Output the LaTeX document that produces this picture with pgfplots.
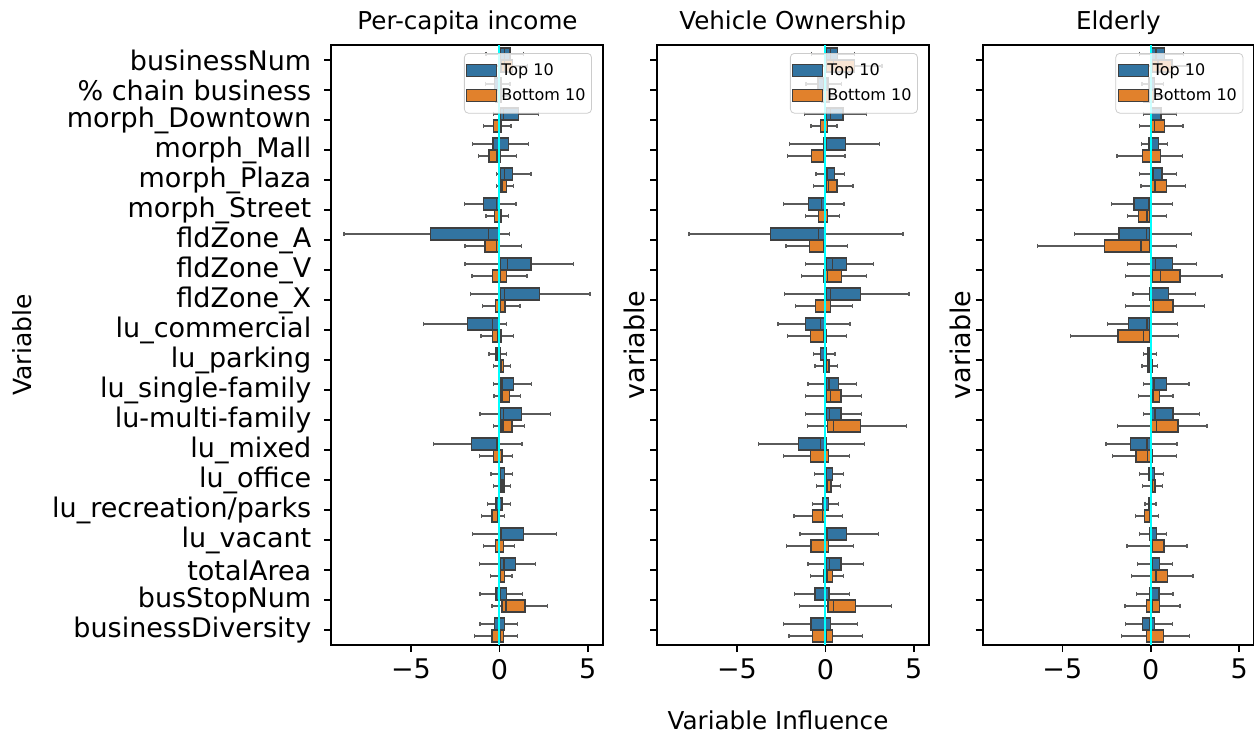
\documentclass[border=0pt]{standalone}
\usepackage{fontspec}
\setmainfont{DejaVu Sans}
\usepackage{pgfplots}
\pgfplotsset{compat=1.18}
\usepgfplotslibrary{statistics}
\definecolor{sbblue}{RGB}{50,116,161}
\definecolor{sborange}{RGB}{225,129,44}
\definecolor{edgegray}{RGB}{63,63,63}
\definecolor{whiskgray}{RGB}{90,90,90}
\definecolor{cyanline}{RGB}{0,255,255}
\newcommand{\bxp}[7]{\addplot[draw=edgegray, line width=0.65pt, fill=#1, forget plot,
  boxplot/every whisker/.style={draw=whiskgray, line width=0.65pt},
  boxplot prepared={draw position=#2, lower whisker=#3, lower quartile=#4, median=#5,
  upper quartile=#6, upper whisker=#7, box extend=0.4, whisker extend=0.14}] coordinates {};}
\newcommand{\T}[6]{\bxp{sbblue}{#1}{#2}{#3}{#4}{#5}{#6}}
\newcommand{\B}[6]{\bxp{sborange}{#1}{#2}{#3}{#4}{#5}{#6}}
\pgfplotsset{
  panel/.style={
    scale only axis, width=135.6pt, height=300pt, anchor=south west,
    xmin=-9.5, xmax=5.83, ymin=-0.5, ymax=19.5, y dir=reverse,
    xtick={-5,0,5}, xticklabels={−5,0,5}, ytick={0,...,19},
    axis line style={line width=1pt}, tick style={line width=0.8pt, black},
    major tick length=3.5pt, tick align=outside, xtick pos=bottom, ytick pos=left,
    ticklabel style={font=\fontsize{13.5}{16}\selectfont},
    yticklabel style={xshift=-3pt},
    legend image code/.code={\draw[sharp corners, draw=edgegray, line width=0.5pt, fill opacity=1, ##1] (0pt,-3pt) rectangle (15pt,3pt);},
    legend cell align=left,
    legend style={at={(rel axis cs:1,1)}, anchor=north east, xshift=-5.3pt, yshift=-4pt,
      draw=black!20, rounded corners=2pt, fill=white, fill opacity=0.8, text opacity=1,
      font=\fontsize{8}{9.6}\selectfont, inner xsep=1pt, inner ysep=3pt, row sep=1pt},
  }
}
\begin{document}
\begin{tikzpicture}
\path[use as bounding box] (0,0) rectangle (627pt,370pt);
% ---------------- Panel 1: Per-capita income
\begin{axis}[panel, at={(165.65pt,47.5pt)},
  yticklabels={businessNum,\% chain business,morph\_Downtown,morph\_Mall,morph\_Plaza,morph\_Street,fldZone\_A,fldZone\_V,fldZone\_X,lu\_commercial,lu\_parking,lu\_single-family,lu-multi-family,lu\_mixed,lu\_office,lu\_recreation/parks,lu\_vacant,totalArea,busStopNum,businessDiversity}]
\T{-0.2}{-0.75}{0.06}{0.3}{0.6}{1.35}
\B{0.2}{-0.5}{0.1}{0.3}{0.75}{1.6}
\T{0.8}{-0.8}{-0.27}{-0.05}{0.1}{0.6}
\B{1.2}{-0.7}{-0.2}{0.0}{0.1}{0.5}
\T{1.8}{-0.32}{0.06}{0.24}{1.07}{2.22}
\B{2.2}{-0.9}{-0.32}{0.04}{0.09}{0.66}
\T{2.8}{-1.5}{-0.36}{-0.05}{0.51}{1.65}
\B{3.2}{-1.18}{-0.58}{-0.13}{0.06}{0.98}
\T{3.8}{-0.17}{0.06}{0.28}{0.73}{1.79}
\B{4.2}{-0.17}{0.09}{0.15}{0.39}{0.81}
\T{4.8}{-1.97}{-0.9}{-0.17}{-0.06}{0.94}
\B{5.2}{-0.75}{-0.28}{0.0}{0.09}{0.53}
\T{5.8}{-8.78}{-3.91}{-0.62}{-0.06}{0.56}
\B{6.2}{-1.95}{-0.81}{-0.17}{-0.06}{1.26}
\T{6.8}{-1.95}{0.06}{0.45}{1.79}{4.21}
\B{7.2}{-1.54}{-0.38}{0.04}{0.39}{1.56}
\T{7.8}{-1.65}{0.06}{0.28}{2.26}{5.13}
\B{8.2}{-0.96}{-0.23}{0.04}{0.32}{1.17}
\T{8.8}{-4.27}{-1.82}{-0.39}{-0.06}{0.41}
\B{9.2}{-1.03}{-0.39}{-0.08}{0.09}{0.81}
\T{9.8}{-0.58}{-0.19}{-0.08}{0.06}{0.39}
\B{10.2}{-0.34}{0.08}{0.11}{0.24}{0.62}
\T{10.8}{-0.34}{0.08}{0.15}{0.81}{1.82}
\B{11.2}{-0.3}{0.09}{0.17}{0.56}{1.18}
\T{11.8}{-1.09}{0.06}{0.24}{1.26}{2.91}
\B{12.2}{-0.34}{0.09}{0.2}{0.71}{1.41}
\T{12.8}{-3.74}{-1.58}{-0.13}{-0.06}{1.28}
\B{13.2}{-1.13}{-0.34}{0.02}{0.15}{0.73}
\T{13.8}{-0.47}{0.04}{0.08}{0.3}{0.73}
\B{14.2}{-0.34}{0.08}{0.15}{0.26}{0.62}
\T{14.8}{-0.68}{-0.19}{0.02}{0.15}{0.62}
\B{15.2}{-1.02}{-0.41}{-0.09}{-0.06}{0.3}
\T{15.8}{-1.5}{0.08}{0.13}{1.35}{3.21}
\B{16.2}{-0.9}{-0.23}{0.02}{0.23}{0.85}
\T{16.8}{-1.13}{0.06}{0.26}{0.9}{2.05}
\B{17.2}{-0.49}{-0.06}{0.08}{0.28}{0.71}
\T{17.8}{-1.09}{-0.19}{0.06}{0.41}{1.3}
\B{18.2}{-0.41}{0.15}{0.38}{1.45}{2.74}
\T{18.8}{-1.09}{-0.26}{0.02}{0.3}{1.03}
\B{19.2}{-1.39}{-0.41}{0.06}{0.24}{1.03}
\addplot[cyanline, line width=1pt, forget plot] coordinates {(0,-0.5) (0,19.5)};
\addlegendimage{fill=sbblue}\addlegendentry{Top 10}
\addlegendimage{fill=sborange}\addlegendentry{Bottom 10}
\end{axis}
% ---------------- Panel 2: Vehicle Ownership
\begin{axis}[panel, at={(328.65pt,47.5pt)}, yticklabels={}]
\T{-0.2}{-0.77}{0.04}{0.3}{0.69}{1.63}
\B{0.2}{-0.7}{0.05}{0.45}{1.66}{3.2}
\T{0.8}{-1.1}{-0.41}{-0.1}{0.15}{0.92}
\B{1.2}{-0.8}{-0.2}{0.0}{0.2}{0.8}
\T{1.8}{-1.18}{0.04}{0.28}{0.99}{2.31}
\B{2.2}{-0.81}{-0.28}{-0.04}{0.11}{0.66}
\T{2.8}{-2.04}{-0.11}{0.08}{1.14}{3.06}
\B{3.2}{-2.14}{-0.79}{-0.11}{-0.04}{1.11}
\T{3.8}{-0.53}{0.06}{0.09}{0.53}{1.09}
\B{4.2}{-0.69}{0.06}{0.17}{0.66}{1.56}
\T{4.8}{-2.36}{-0.96}{-0.21}{-0.06}{1.05}
\B{5.2}{-1.11}{-0.39}{0.0}{0.13}{0.79}
\T{5.8}{-7.71}{-3.11}{-0.38}{-0.02}{4.39}
\B{6.2}{-2.23}{-0.88}{-0.11}{0.0}{1.24}
\T{6.8}{-1.14}{0.04}{0.41}{1.2}{2.74}
\B{7.2}{-1.35}{-0.11}{0.11}{0.92}{2.31}
\T{7.8}{-2.31}{0.04}{0.3}{1.97}{4.73}
\B{8.2}{-1.69}{-0.56}{0.0}{0.28}{1.52}
\T{8.8}{-2.68}{-1.11}{-0.26}{-0.02}{1.39}
\B{9.2}{-2.14}{-0.83}{-0.09}{0.04}{1.18}
\T{9.8}{-0.69}{-0.28}{-0.06}{0.04}{0.54}
\B{10.2}{-0.58}{-0.11}{0.08}{0.21}{0.68}
\T{10.8}{-0.99}{0.06}{0.21}{0.73}{1.76}
\B{11.2}{-1.11}{0.06}{0.28}{0.88}{2.05}
\T{11.8}{-1.11}{0.04}{0.24}{0.88}{2.05}
\B{12.2}{-1.01}{0.11}{0.45}{1.97}{4.58}
\T{12.8}{-3.77}{-1.52}{-0.26}{0.04}{2.21}
\B{13.2}{-2.36}{-0.86}{-0.06}{0.19}{1.35}
\T{13.8}{-0.6}{0.04}{0.08}{0.41}{1.01}
\B{14.2}{-0.49}{0.04}{0.11}{0.32}{0.86}
\T{14.8}{-0.73}{-0.17}{-0.06}{0.19}{0.73}
\B{15.2}{-1.78}{-0.73}{-0.15}{-0.04}{0.98}
\T{15.8}{-1.44}{0.04}{0.09}{1.2}{3.0}
\B{16.2}{-2.21}{-0.81}{0.0}{0.19}{1.59}
\T{16.8}{-0.99}{0.04}{0.24}{0.88}{2.16}
\B{17.2}{-0.83}{-0.11}{0.09}{0.41}{1.03}
\T{17.8}{-1.74}{-0.58}{0.0}{0.21}{1.37}
\B{18.2}{-1.46}{0.15}{0.45}{1.71}{3.73}
\T{18.8}{-2.35}{-0.81}{-0.04}{0.28}{1.82}
\B{19.2}{-2.06}{-0.73}{0.06}{0.41}{2.08}
\addplot[cyanline, line width=1pt, forget plot] coordinates {(0,-0.5) (0,19.5)};
\addlegendimage{fill=sbblue}\addlegendentry{Top 10}
\addlegendimage{fill=sborange}\addlegendentry{Bottom 10}
\end{axis}
% ---------------- Panel 3: Elderly
\begin{axis}[panel, at={(491.35pt,47.5pt)}, yticklabels={}]
\T{-0.2}{-0.64}{0.04}{0.3}{0.77}{1.86}
\B{0.2}{-0.5}{0.1}{0.4}{1.2}{2.2}
\T{0.8}{-0.5}{-0.1}{0.05}{0.2}{0.7}
\B{1.2}{-1.29}{-0.4}{-0.1}{0.15}{0.73}
\T{1.8}{-0.43}{0.0}{0.04}{0.58}{1.44}
\B{2.2}{-0.62}{0.06}{0.23}{0.77}{1.82}
\T{2.8}{-0.54}{-0.11}{-0.04}{0.43}{0.96}
\B{3.2}{-1.91}{-0.45}{-0.02}{0.53}{1.78}
\T{3.8}{-0.62}{0.08}{0.13}{0.64}{1.46}
\B{4.2}{-0.56}{0.06}{0.24}{0.9}{1.95}
\T{4.8}{-2.23}{-0.94}{-0.11}{-0.06}{1.24}
\B{5.2}{-1.33}{-0.71}{-0.21}{-0.04}{0.88}
\T{5.8}{-4.3}{-1.8}{-0.23}{-0.04}{2.31}
\B{6.2}{-6.42}{-2.61}{-0.56}{-0.04}{1.44}
\T{6.8}{-1.33}{0.06}{0.28}{1.22}{2.57}
\B{7.2}{-1.43}{0.08}{0.53}{1.65}{4.03}
\T{7.8}{-1.01}{-0.06}{0.02}{0.99}{2.51}
\B{8.2}{-1.43}{0.06}{0.17}{1.26}{3.02}
\T{8.8}{-2.44}{-1.24}{-0.21}{-0.04}{1.52}
\B{9.2}{-4.54}{-1.86}{-0.41}{-0.04}{1.58}
\T{9.8}{-0.41}{-0.15}{-0.06}{0.0}{0.34}
\B{10.2}{-0.49}{-0.15}{-0.04}{0.11}{0.39}
\T{10.8}{-0.41}{0.06}{0.19}{0.88}{2.16}
\B{11.2}{-0.68}{0.09}{0.15}{0.51}{1.26}
\T{11.8}{-0.41}{0.06}{0.24}{1.26}{2.76}
\B{12.2}{-1.88}{0.06}{0.34}{1.54}{3.17}
\T{12.8}{-2.53}{-1.13}{-0.21}{0.02}{1.48}
\B{13.2}{-2.18}{-0.83}{-0.17}{0.09}{1.44}
\T{13.8}{-0.62}{-0.11}{-0.04}{0.21}{0.73}
\B{14.2}{-0.45}{-0.02}{0.11}{0.24}{0.68}
\T{14.8}{-0.32}{-0.11}{-0.04}{0.02}{0.3}
\B{15.2}{-0.88}{-0.34}{-0.08}{-0.04}{0.45}
\T{15.8}{-0.62}{-0.08}{0.0}{0.32}{0.88}
\B{16.2}{-1.35}{0.08}{0.11}{0.75}{2.05}
\T{16.8}{-0.77}{0.06}{0.09}{0.51}{1.24}
\B{17.2}{-1.07}{0.06}{0.3}{0.96}{2.38}
\T{17.8}{-0.79}{-0.04}{0.06}{0.47}{1.26}
\B{18.2}{-1.46}{-0.26}{0.11}{0.51}{1.65}
\T{18.8}{-1.43}{-0.45}{-0.06}{0.21}{1.24}
\B{19.2}{-1.67}{-0.26}{0.04}{0.73}{2.2}
\addplot[cyanline, line width=1pt, forget plot] coordinates {(0,-0.5) (0,19.5)};
\addlegendimage{fill=sbblue}\addlegendentry{Top 10}
\addlegendimage{fill=sborange}\addlegendentry{Bottom 10}
\end{axis}
% ---------------- titles and labels
\node[anchor=base, font=\fontsize{12.3}{14}\selectfont] at (233.75pt,355pt) {Per-capita income};
\node[anchor=base, font=\fontsize{12.3}{14}\selectfont] at (396.4pt,355pt) {Vehicle Ownership};
\node[anchor=base, font=\fontsize{12.3}{14}\selectfont] at (559.2pt,355pt) {Elderly};
\node[anchor=base, font=\fontsize{12.3}{14}\selectfont] at (389pt,5.5pt) {Variable Influence};
\node[rotate=90, font=\fontsize{12.5}{14}\selectfont] at (11pt,197.5pt) {Variable};
\node[rotate=90, font=\fontsize{13.5}{16}\selectfont] at (317pt,197.5pt) {variable};
\node[rotate=90, font=\fontsize{13.5}{16}\selectfont] at (480pt,197.5pt) {variable};
\end{tikzpicture}
\end{document}
